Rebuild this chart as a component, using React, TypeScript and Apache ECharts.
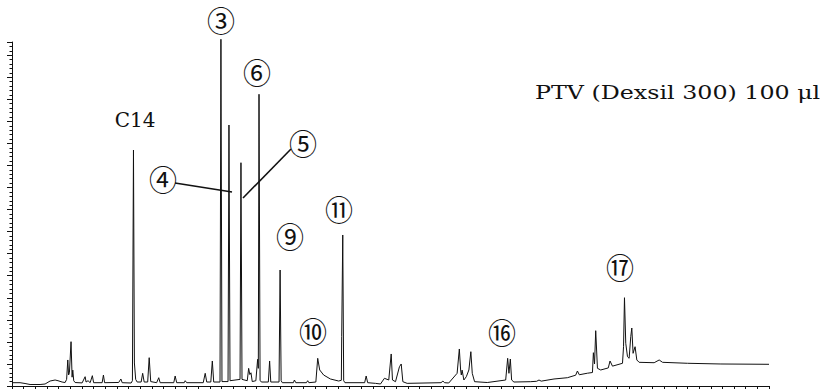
import React, { useEffect, useRef } from "react";
import * as echarts from "echarts";

// Retention time (axis units, 1 tick = 1 unit) and detector signal
const retentionTime = [
  0, 0.69, 1.12, 1.55, 2.41, 2.84, 3.27, 3.7, 3.95, 4.3, 4.56,
  4.69, 4.79, 4.86, 4.93, 5.07, 5.16, 5.22, 5.3, 5.42,
  6.02, 6.28, 6.36, 6.53, 6.71, 6.9, 7.01, 7.74, 7.85, 7.95,
  9.16, 9.35, 9.46, 10.23, 10.34, 10.43, 10.51, 10.62, 10.75,
  11.09, 11.22, 11.35, 11.65, 11.78, 11.91, 12.42, 12.6, 12.72,
  13.89, 14.01, 14.14, 14.79, 14.87, 15.0,
  16.42, 16.59, 16.72, 17.07, 17.2, 17.32, 17.86, 17.94, 18.03,
  18.55, 18.63, 18.72, 19.58, 19.66, 19.75,
  20.2, 20.32, 20.42, 20.52, 20.63, 20.94, 21.09, 21.15, 21.21, 21.3, 21.41,
  22.01, 22.12, 22.22, 22.93, 23.02, 23.11, 23.21,
  24.16, 24.25, 24.37, 25.28, 25.39, 25.49,
  26.09, 26.25, 26.42, 26.76, 27.34, 28.05, 28.28, 28.31, 28.4, 28.48, 28.59,
  30.28, 30.41, 30.54, 31.21, 31.64, 31.98, 32.35, 32.56, 32.67, 32.93,
  33.27, 33.42, 33.56, 33.93,
  36.84, 37.0, 37.14, 37.5, 38.22, 38.41, 38.52, 38.58, 38.65, 38.8,
  39.01, 39.23, 39.4, 39.52, 39.72, 40.81,
  42.39, 42.56, 42.67, 42.79, 42.9, 43.1,
  44.54, 45.05, 45.25, 45.44, 46.54, 47.69, 48.4, 48.55, 48.71, 49.41,
  49.84, 49.92, 50.02, 50.12, 50.27, 50.55, 51.2, 51.35, 51.56,
  52.42, 52.51, 52.59, 52.7, 52.85, 52.99, 53.13, 53.22, 53.33, 53.5, 53.65, 53.85,
  55.14, 55.57, 55.86, 58.01, 60.87, 65,
];

const detectorSignal = [
  0.75, 0.75, 0.57, 0.34, 0.34, 0.45, 1.13, 1.36, 1.2, 0.9, 0.79,
  1.5, 5.9, 2.5, 3.0, 10.05, 2.0, 3.6, 1.2, 0.79,
  0.7, 2.11, 0.9, 1.2, 0.75, 2.34, 0.75, 0.75, 2.49, 0.75,
  0.8, 1.59, 0.75, 0.68, 1.2, 53.51, 5.22, 1.5, 0.9,
  0.9, 2.88, 0.9, 0.9, 6.42, 1.0, 0.75, 1.88, 0.75,
  0.75, 2.27, 0.75, 0.75, 1.2, 0.75,
  0.75, 2.88, 0.9, 0.9, 5.67, 0.9, 0.9, 78.62, 1.0,
  1.0, 59.18, 1.2, 1.5, 50.63, 1.5,
  1.2, 4.0, 2.6, 3.0, 1.0, 1.2, 6.05, 4.0, 66.15, 1.3, 0.9,
  0.9, 5.67, 0.9, 0.9, 26.3, 1.2, 0.75,
  0.75, 1.36, 0.75, 0.75, 1.2, 0.75,
  0.9, 6.28, 3.63, 2.49, 1.59, 1.13, 1.3, 11.18, 34.24, 1.2, 0.75,
  0.75, 2.27, 0.75, 0.6, 0.45, 1.75, 1.36, 7.26, 1.36, 0.98,
  4.38, 4.99, 0.98, 0.6,
  0.75, 1.13, 0.75, 0.68, 2.88, 8.39, 3.63, 2.5, 3.6, 1.36,
  2.11, 3.63, 7.78, 2.88, 0.98, 0.79,
  1.36, 6.28, 2.88, 6.12, 1.36, 0.9,
  0.98, 1.07, 1.36, 1.1, 1.59, 1.88, 2.45, 3.4, 2.55, 2.9,
  3.06, 7.55, 5.0, 12.54, 4.01, 3.63, 4.1, 5.67, 4.5,
  5.15, 8.91, 20.02, 9.68, 6.64, 6.28, 11.18, 13.15, 7.41, 8.91, 5.9, 5.37,
  5.28, 5.9, 5.37, 5.15, 4.99, 4.92,
];

const peakLabels = ["C14", "③", "④", "⑤", "⑥", "⑨", "⑩", "⑪", "⑯", "⑰"];
const conditionText = "PTV (Dexsil 300) 100 μl";

export default function App() {
  const ref = useRef<HTMLDivElement>(null);
  useEffect(() => {
    if (!ref.current) return;
    const chart = echarts.init(ref.current, null, { renderer: "svg" });
    const series = retentionTime.map((t, i) => [t, detectorSignal[i]]);
    const circleFont = '28px "Noto Sans CJK JP"';
    const labelPos: Record<string, [number, number]> = {
      "③": [221, 20],
      "④": [163, 179],
      "⑤": [303, 143],
      "⑥": [257, 72],
      "⑨": [290, 236],
      "⑩": [313, 331],
      "⑪": [339, 209],
      "⑯": [502, 332],
      "⑰": [620, 267],
    };
    const graphics: any[] = [];
    peakLabels.forEach((lab) => {
      if (lab === "C14") {
        graphics.push({
          type: "text",
          x: 135,
          y: 120,
          style: {
            text: lab,
            font: '20px "DejaVu Serif"',
            fill: "#111",
            align: "center",
            verticalAlign: "middle",
          },
        });
      } else {
        const p = labelPos[lab];
        graphics.push({
          type: "text",
          x: p[0],
          y: p[1],
          style: {
            text: lab,
            font: circleFont,
            fill: "#111",
            align: "center",
            verticalAlign: "middle",
          },
        });
      }
    });
    graphics.push({
      type: "text",
      x: 535,
      y: 92,
      scaleX: 1.25,
      style: {
        text: conditionText,
        font: '19px "DejaVu Serif"',
        fill: "#111",
        align: "left",
        verticalAlign: "middle",
      },
    });
    graphics.push({
      type: "line",
      shape: { x1: 175, y1: 183, x2: 232, y2: 192 },
      style: { stroke: "#111", lineWidth: 1.6 },
    });
    graphics.push({
      type: "line",
      shape: { x1: 291, y1: 149, x2: 243, y2: 198 },
      style: { stroke: "#111", lineWidth: 1.6 },
    });

    chart.setOption({
      animation: false,
      backgroundColor: "#fff",
      grid: { left: 12, top: 42, right: 51, bottom: 3, containLabel: false },
      xAxis: {
        type: "value",
        min: 0,
        max: 65,
        interval: 1,
        axisLine: { show: true, onZero: false, lineStyle: { color: "#111", width: 1 } },
        axisTick: { show: true, inside: false, length: 3, lineStyle: { color: "#111" } },
        axisLabel: { show: false },
        splitLine: { show: false },
      },
      yAxis: {
        type: "value",
        min: 0,
        max: 78,
        interval: 5,
        axisLine: { show: true, lineStyle: { color: "#111", width: 1 } },
        axisTick: { show: true, inside: false, length: 5, lineStyle: { color: "#111" } },
        minorTick: { show: true, splitNumber: 5, length: 2.5, lineStyle: { color: "#111" } },
        axisLabel: { show: false },
        splitLine: { show: false },
        minorSplitLine: { show: false },
      },
      series: [
        {
          type: "line",
          data: series,
          showSymbol: false,
          symbol: "none",
          clip: false,
          lineStyle: { color: "#111", width: 1 },
        },
      ],
      graphic: graphics,
    });
    return () => chart.dispose();
  }, []);
  return (
    <div
      ref={ref}
      style={{ position: "fixed", left: 0, top: 0, width: 820, height: 389, background: "#fff" }}
    />
  );
}
